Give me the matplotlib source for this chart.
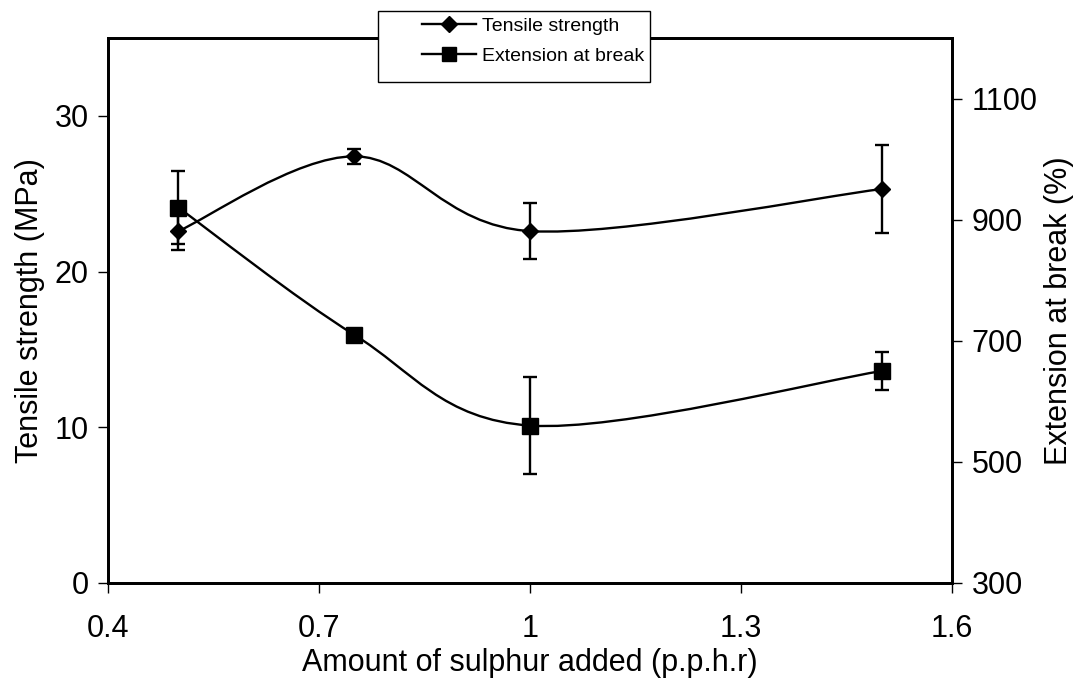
import matplotlib
matplotlib.use('Agg')
from matplotlib import pyplot as plt
from matplotlib.path import Path
from matplotlib.patches import PathPatch, Rectangle
from matplotlib.lines import Line2D

plt.rcParams['font.family'] = ['Liberation Sans', 'DejaVu Sans']

# data
sulphur = [0.5, 0.75, 1.0, 1.5]
tensile = [22.6, 27.4, 22.6, 25.3]
tensile_err = [1.2, 0.5, 1.8, 2.8]
extension = [920, 710, 560, 650]
extension_err = [60, 10, 80, 32]


def smooth_path(xs, ys):
    # Excel-style smoothed line: cubic bezier through every point
    verts = [(xs[0], ys[0])]
    codes = [Path.MOVETO]
    n = len(xs)
    for i in range(n - 1):
        xp, yp = (xs[i - 1], ys[i - 1]) if i > 0 else (xs[i], ys[i])
        xn, yn = (xs[i + 2], ys[i + 2]) if i + 2 < n else (xs[i + 1], ys[i + 1])
        c1 = (xs[i] + (xs[i + 1] - xp) / 6, ys[i] + (ys[i + 1] - yp) / 6)
        c2 = (xs[i + 1] - (xn - xs[i]) / 6, ys[i + 1] - (yn - ys[i]) / 6)
        verts += [c1, c2, (xs[i + 1], ys[i + 1])]
        codes += [Path.CURVE4] * 3
    return Path(verts, codes)


fig = plt.figure(figsize=(10.77, 6.81), dpi=100)
ax = fig.add_axes([108 / 1077, 98 / 681, 844 / 1077, 545 / 681])
ax2 = ax.twinx()

ax.add_patch(PathPatch(smooth_path(sulphur, tensile), fill=False, color='black', lw=1.7))
ax.errorbar(sulphur, tensile, yerr=tensile_err, fmt='D', color='black', ms=8,
            capsize=5, elinewidth=1.7, capthick=1.7)

ax2.add_patch(PathPatch(smooth_path(sulphur, extension), fill=False, color='black', lw=1.7))
ax2.errorbar(sulphur, extension, yerr=extension_err, fmt='s', color='black', ms=11,
             capsize=5, elinewidth=1.7, capthick=1.7)

ax.set_xlim(0.4, 1.6)
ax.set_ylim(0, 35)
ax2.set_ylim(300, 1200)
ax.set_xticks([0.4, 0.7, 1, 1.3, 1.6])
ax.set_xticklabels(['0.4', '0.7', '1', '1.3', '1.6'])
ax.set_yticks([0, 10, 20, 30])
ax2.set_yticks([300, 500, 700, 900, 1100])

for a in (ax, ax2):
    for s in a.spines.values():
        s.set_linewidth(2)
    a.tick_params(direction='out', length=7, width=1, labelsize=22, pad=7)
ax.tick_params(axis='x', pad=15)

ax.set_xlabel('Amount of sulphur added (p.p.h.r)', fontsize=22, labelpad=3)
ax.set_ylabel('Tensile strength (MPa)', fontsize=22, labelpad=7)
ax2.set_ylabel('Extension at break (%)', fontsize=22, labelpad=5)

# legend box, sitting over the top spine like the original
fig.patches.append(Rectangle((378 / 1077, 1 - 82 / 681), 272 / 1077, 71 / 681,
                             transform=fig.transFigure, facecolor='white',
                             edgecolor='black', lw=1, zorder=5))
handles = [Line2D([], [], color='black', lw=1.7, marker='D', ms=8),
           Line2D([], [], color='black', lw=1.7, marker='s', ms=10)]
leg = fig.legend(handles, ['Tensile strength', 'Extension at break'],
                 loc='upper left', bbox_to_anchor=(422 / 1077, 1 - 17 / 681),
                 fontsize=14, frameon=False, handlelength=2.8, handletextpad=0.3,
                 borderaxespad=0, borderpad=0, labelspacing=0.65)
leg.set_zorder(10)

fig.savefig('out.png', dpi=100)
